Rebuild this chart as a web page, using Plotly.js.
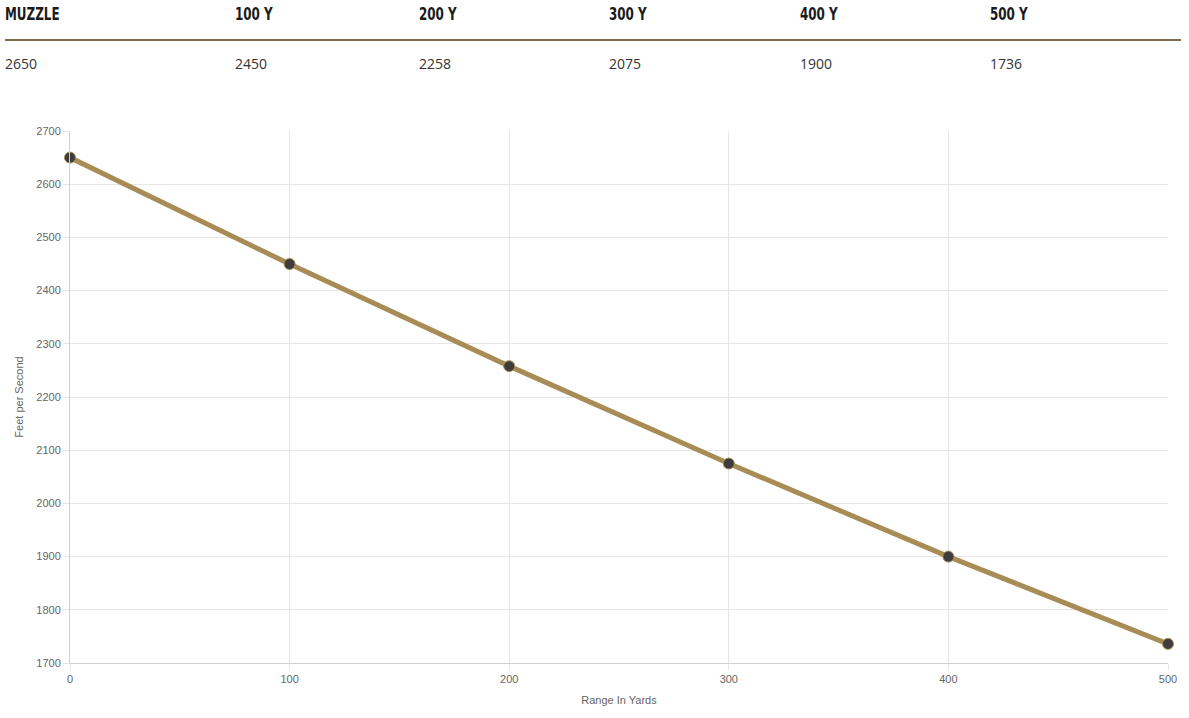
<!DOCTYPE html>
<html><head><meta charset="utf-8">
<script src="https://cdn.plot.ly/plotly-3.0.1.min.js"></script>
<style>
body{margin:0;background:#fff;width:1189px;height:718px;overflow:hidden;position:relative;font-family:"Open Sans",sans-serif}
#hdr{position:absolute;left:0;top:0;width:1189px;height:90px}
.lab{position:absolute;top:4px;font-family:"DejaVu Sans Condensed","DejaVu Sans",sans-serif;font-weight:bold;font-size:17px;color:#1b1b1b;transform:scaleX(0.78);transform-origin:0 0;white-space:nowrap}
.val{position:absolute;top:54px;font-size:14px;color:#333}
#rule{position:absolute;left:5px;top:39px;width:1176px;height:2px;background:#7d6b47}
#chart{position:absolute;left:0;top:100px;width:1189px;height:618px}
</style></head><body>
<div id="hdr"><div id="rule"></div></div>
<div id="chart"></div>
<script>
const headers = ["MUZZLE","100 Y","200 Y","300 Y","400 Y","500 Y"];
const ranges = [0,100,200,300,400,500];
const velocity = [2650,2450,2258,2075,1900,1736];
const colX = [5,235,419,609,800,990];

const hdr = document.getElementById('hdr');
headers.forEach((h,i)=>{
  const a=document.createElement('div');a.className='lab';a.style.left=colX[i]+'px';a.textContent=h;hdr.appendChild(a);
  const b=document.createElement('div');b.className='val';b.style.left=colX[i]+'px';b.textContent=velocity[i];hdr.appendChild(b);
});

Plotly.newPlot('chart',[{
  x: ranges, y: velocity, type:'scatter', mode:'lines+markers', cliponaxis:false,
  line:{color:'#a88c55',width:5},
  marker:{color:'#3d3d3d',size:11,line:{color:'#a88c55',width:1}},
  hoverinfo:'skip'
}],{
  width:1189,height:618,
  margin:{l:70,r:21,t:31,b:55},
  paper_bgcolor:'#fff',plot_bgcolor:'#fff',
  showlegend:false,
  font:{family:'Arial, "Liberation Sans", sans-serif',size:11,color:'#666'},
  xaxis:{range:[0,500],tickvals:ranges,ticktext:ranges.map(String),showgrid:true,gridcolor:'#e6e6e6',zeroline:false,
    showline:true,linecolor:'#d0d0d0',ticks:'outside',ticklen:6,tickcolor:'#e6e6e6',
    title:{text:'Range In Yards',font:{size:11,color:'#666'},standoff:12}},
  yaxis:{range:[1700,2700],dtick:100,showgrid:true,gridcolor:'#e6e6e6',zeroline:false,
    showline:true,linecolor:'#d0d0d0',ticks:'outside',ticklen:6,tickcolor:'#e6e6e6',
    title:{text:'Feet per Second',font:{size:11,color:'#666'},standoff:10}}
},{staticPlot:true});
</script>
</body></html>
